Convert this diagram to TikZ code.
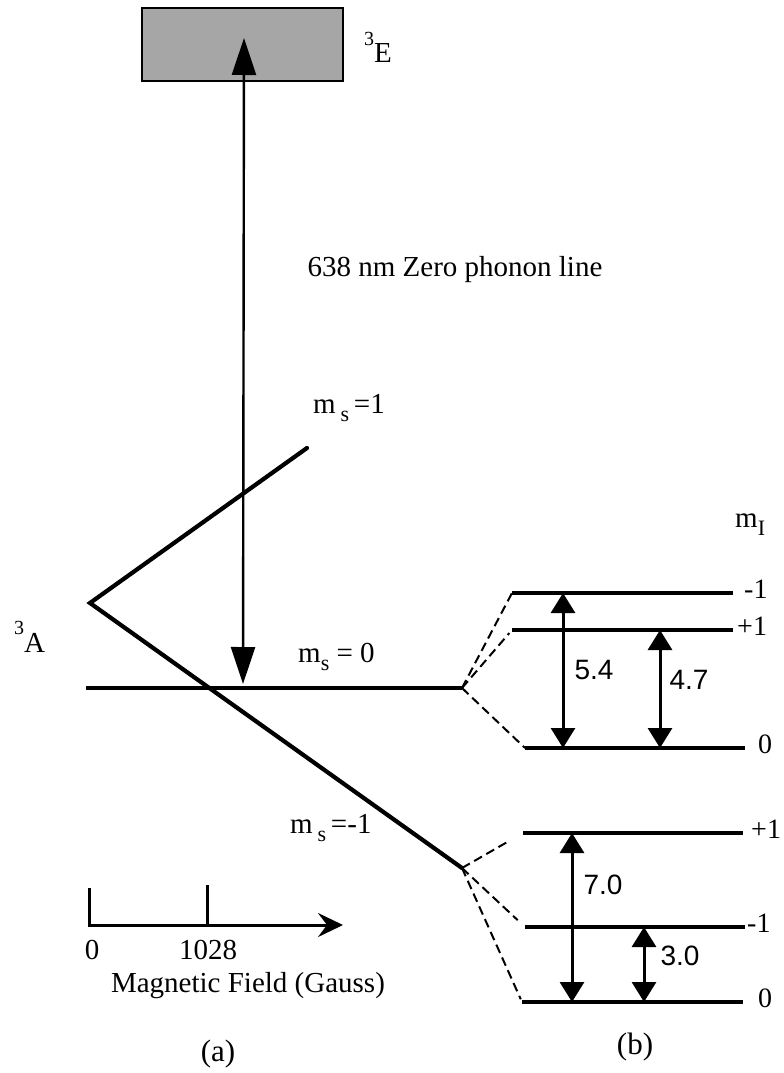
\documentclass[tikz,border=0pt]{standalone}
\usepackage{fontspec}
\setmainfont{Liberation Serif}
\setsansfont{Liberation Sans}
\usetikzlibrary{arrows.meta, positioning}
\newcommand{\supsc}[1]{\raisebox{0.62em}{\fontsize{20}{20}\selectfont #1}}
\newcommand{\subsc}[1]{\raisebox{-0.28em}{\fontsize{22}{22}\selectfont #1}}

\begin{document}
\begin{tikzpicture}[x=1pt, y=-1pt, >={Triangle[length=20pt,width=24pt]},
  lvl/.style={line width=3.6pt},
  brch/.style={line width=4.2pt, line cap=round},
  split/.style={line width=2pt, dash pattern=on 9pt off 5pt},
  trans/.style={line width=3pt, <->},
  lab/.style={font=\fontsize{29}{34}\selectfont, inner sep=0pt},
  num/.style={font=\sffamily\fontsize{28}{32}\selectfont, inner sep=0pt},
  mi/.style={font=\fontsize{28}{32}\selectfont, inner sep=0pt, anchor=west}]
  \useasboundingbox (0,0) rectangle (784,1073);
  % Excited state
  \node[draw, line width=2.8pt, fill=black!35, minimum width=201pt,
    minimum height=73pt, inner sep=0pt] (ebox) at (242.5,44.5) {};
  \node[lab, anchor=base west] (lblE) at (364,63) {\supsc{3}E};
  % Zero phonon line
  \coordinate (zpltop) at (244,38);
  \coordinate (zplbot) at (243,684);
  \draw[line width=2.4pt, {Triangle[length=37pt,width=24pt]}-{Triangle[length=37pt,width=24pt]}]
    (zpltop) -- (zplbot);
  \node[lab] (zpl) at (455,270) {638 nm Zero phonon line};
  % Ground state branches
  \coordinate (vtx) at (90,603);
  \coordinate (msp) at (307,448);
  \coordinate (msm) at (462,868);
  \coordinate (mz0) at (86,688);
  \coordinate (mz1) at (462,688);
  \draw[brch] (msp) -- (vtx) -- (msm);
  \draw[lvl] (mz0) -- (mz1);
  \node[lab, anchor=base west] (lA) at (14,652) {\supsc{3}A};
  \node[lab, anchor=base west] (lp1) at (313,413) {m\,\subsc{s}\,=1};
  \node[lab, anchor=base west] (l0) at (298,662) {m\subsc{s} = 0};
  \node[lab, anchor=base west] (lm1) at (290,833) {m\,\subsc{s}\,=-1};
  % Field axis
  \coordinate (ax0) at (89,925);
  \coordinate (ax1) at (343,925);
  \coordinate (tk0) at (89,888);
  \coordinate (tk1) at (207,885);
  \coordinate (tk1b) at (207,925);
  \draw[line width=3pt, -{Stealth[length=25pt,width=24pt,inset=9pt]}] (tk0) -- (ax0) -- (ax1);
  \draw[line width=3pt] (tk1) -- (tk1b);
  \node[lab] (t0) at (92,950) {0};
  \node[lab] (t1) at (208,950) {1028};
  \node[lab] (axl) at (248,986) {Magnetic Field (Gauss)};
  % Hyperfine levels
  \node[lab, anchor=base west] (lmI) at (735,527) {m\subsc{I}};
  \foreach \nm/\y/\xs/\xe/\lx/\txt in {um/593/512/733/744/-1, up/630/512/733/737/+1,
      uz/748/525/745/758/0, lp/833/523/743/751/+1, lm/927/525/745/747/-1, lz/1002/522/743/758/0}{
    \coordinate (\nm w) at (\xs,\y);
    \coordinate (\nm e) at (\xe,\y);
    \draw[lvl] (\nm w) -- (\nm e);
    \node[mi] (\nm l) at (\lx,\y-4) {\txt};
  }
  % Splittings
  \draw[split] (mz1) -- (umw);
  \draw[split, shorten >=4pt] (mz1) -- (upw);
  \draw[split] (mz1) -- (uzw);
  \draw[split, shorten >=15pt] (msm) -- (lpw);
  \draw[split, shorten >=10pt] (msm) -- (lmw);
  \draw[split, shorten >=3pt] (msm) -- (lzw);
  % Transitions
  \coordinate (t54a) at (563,593);
  \coordinate (t54b) at (563,748);
  \coordinate (t47a) at (660,630);
  \coordinate (t47b) at (660,748);
  \coordinate (t70a) at (572,833);
  \coordinate (t70b) at (572,1002);
  \coordinate (t30a) at (644,927);
  \coordinate (t30b) at (644,1002);
  \draw[trans] (t54a) -- (t54b);
  \draw[trans] (t47a) -- (t47b);
  \draw[trans] (t70a) -- (t70b);
  \draw[trans] (t30a) -- (t30b);
  \node[num] (n54) at (594,670) {5.4};
  \node[num] (n47) at (689,680) {4.7};
  \node[num] (n70) at (603,885) {7.0};
  \node[num] (n30) at (680,956) {3.0};
  % Panel labels
  \node[lab, font=\fontsize{31}{36}\selectfont] (pa) at (218,1054) {(a)};
  \node[lab, font=\fontsize{31}{36}\selectfont] (pb) at (635,1047) {(b)};
\end{tikzpicture}
\end{document}
